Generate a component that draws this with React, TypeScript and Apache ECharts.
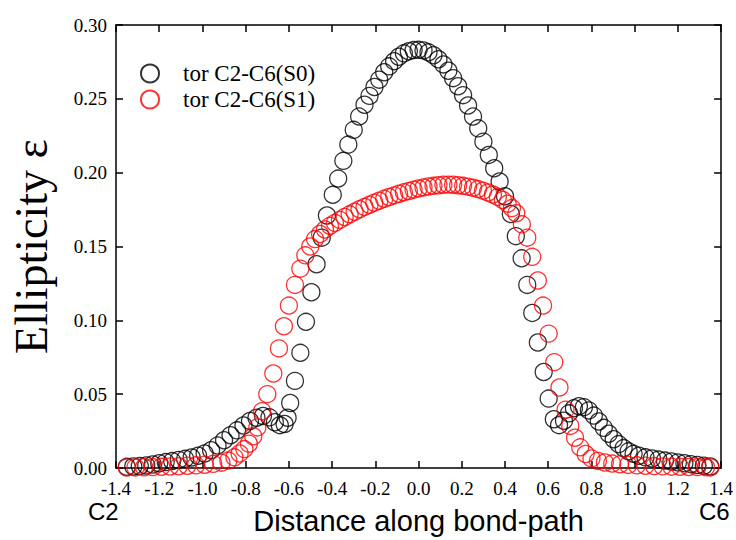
import React, { useEffect, useRef } from "react";
import * as echarts from "echarts";

// Ellipticity along the C2–C6 bond path, torsional geometry, S0 and S1 states.
const s0Distance = [
  -1.35, -1.32, -1.29, -1.26, -1.23, -1.2, -1.17, -1.14, -1.11, -1.08, -1.05, -1.02,
  -0.99, -0.96, -0.93, -0.9, -0.87, -0.84, -0.81, -0.78, -0.75, -0.72, -0.69, -0.665,
  -0.642, -0.62, -0.606, -0.594, -0.572, -0.547, -0.521, -0.496, -0.472, -0.448, -0.424,
  -0.397, -0.372, -0.348, -0.325, -0.3, -0.275, -0.25, -0.227, -0.204, -0.182, -0.159,
  -0.136, -0.113, -0.091, -0.068, -0.045, -0.023, 0.0, 0.023, 0.046, 0.069, 0.092, 0.115,
  0.138, 0.16, 0.183, 0.206, 0.229, 0.252, 0.276, 0.3, 0.325, 0.35, 0.375, 0.4, 0.427,
  0.45, 0.477, 0.503, 0.526, 0.552, 0.579, 0.602, 0.626, 0.65, 0.673, 0.696, 0.719,
  0.742, 0.765, 0.788, 0.811, 0.834, 0.857, 0.88, 0.903, 0.926, 0.949, 0.972, 0.995,
  1.02, 1.05, 1.08, 1.11, 1.14, 1.17, 1.2, 1.23, 1.26, 1.29, 1.32, 1.35,
];
const s0Ellipticity = [
  0.0008, 0.001, 0.0013, 0.0017, 0.0024, 0.0032, 0.004, 0.0047, 0.0055, 0.0062, 0.0071,
  0.0083, 0.0098, 0.012, 0.0152, 0.0188, 0.0222, 0.0255, 0.0288, 0.0318, 0.034, 0.0352,
  0.0343, 0.031, 0.029, 0.0298, 0.034, 0.044, 0.059, 0.078, 0.099, 0.119, 0.138, 0.156,
  0.171, 0.185, 0.196, 0.208, 0.219, 0.229, 0.238, 0.246, 0.252, 0.258, 0.263, 0.268,
  0.272, 0.2755, 0.2785, 0.2808, 0.2822, 0.283, 0.2832, 0.2828, 0.2815, 0.2795, 0.2768,
  0.2733, 0.269, 0.264, 0.2585, 0.2525, 0.2455, 0.238, 0.23, 0.221, 0.212, 0.203, 0.194,
  0.184, 0.172, 0.157, 0.142, 0.124, 0.105, 0.085, 0.065, 0.047, 0.033, 0.029, 0.032,
  0.037, 0.0405, 0.0418, 0.0412, 0.039, 0.0355, 0.0315, 0.0272, 0.0232, 0.0195, 0.0162,
  0.0135, 0.0113, 0.0096, 0.0083, 0.0072, 0.0064, 0.0057, 0.005, 0.0044, 0.0038, 0.0032,
  0.0026, 0.002, 0.0015, 0.001,
];

const s1Distance = [
  -1.35, -1.31, -1.27, -1.23, -1.19, -1.15, -1.11, -1.07, -1.03, -0.99, -0.95, -0.912,
  -0.88, -0.852, -0.828, -0.806, -0.785, -0.765, -0.746, -0.724, -0.7, -0.672, -0.646,
  -0.623, -0.6, -0.572, -0.547, -0.524, -0.501, -0.479, -0.456, -0.433, -0.41, -0.387,
  -0.364, -0.342, -0.319, -0.296, -0.273, -0.25, -0.227, -0.205, -0.182, -0.159, -0.136,
  -0.113, -0.09, -0.068, -0.045, -0.023, 0.0, 0.023, 0.046, 0.069, 0.092, 0.115, 0.138,
  0.16, 0.183, 0.206, 0.229, 0.252, 0.275, 0.298, 0.321, 0.344, 0.367, 0.39, 0.412, 0.432,
  0.452, 0.478, 0.503, 0.526, 0.552, 0.576, 0.602, 0.628, 0.652, 0.68, 0.702, 0.724,
  0.748, 0.773, 0.8, 0.83, 0.862, 0.896, 0.932, 0.97, 1.01, 1.05, 1.09, 1.13, 1.17, 1.21,
  1.25, 1.29, 1.33, 1.35,
];
const s1Ellipticity = [
  0.0003, 0.0004, 0.0005, 0.0006, 0.0008, 0.001, 0.0012, 0.0015, 0.0018, 0.0022, 0.0028,
  0.0036, 0.005, 0.0072, 0.0098, 0.0128, 0.0165, 0.0215, 0.0275, 0.0385, 0.05, 0.064,
  0.081, 0.096, 0.11, 0.124, 0.135, 0.144, 0.15, 0.155, 0.1585, 0.1615, 0.164, 0.166,
  0.168, 0.17, 0.1718, 0.1735, 0.1752, 0.1768, 0.1783, 0.1797, 0.181, 0.1823, 0.1835,
  0.1846, 0.1857, 0.1867, 0.1876, 0.1885, 0.1893, 0.19, 0.1906, 0.1911, 0.1915, 0.1918,
  0.1919, 0.1918, 0.1915, 0.1911, 0.1905, 0.1898, 0.1889, 0.1878, 0.1866, 0.1852, 0.1836,
  0.1815, 0.179, 0.176, 0.1725, 0.165, 0.156, 0.143, 0.127, 0.11, 0.091, 0.0717, 0.0545,
  0.0395, 0.0285, 0.0205, 0.014, 0.0095, 0.0065, 0.0048, 0.0037, 0.003, 0.0025, 0.0021,
  0.0018, 0.0015, 0.0013, 0.0011, 0.0009, 0.0008, 0.0007, 0.0006, 0.0005, 0.0004,
];

const seriesNames = ["tor C2-C6(S0)", "tor C2-C6(S1)"];
const seriesColors = ["#000000", "#ff0000"];
const endAtoms = ["C2", "C6"];

const SERIF = "'Liberation Serif', 'Times New Roman', serif";
const SANS = "'Liberation Sans', Arial, sans-serif";

const pairs = (xs: number[], ys: number[]) => xs.map((x, i) => [x, ys[i]]);

export default function App() {
  const ref = useRef<HTMLDivElement>(null);

  useEffect(() => {
    if (!ref.current) return;
    const chart = echarts.init(ref.current, null, { renderer: "svg" });

    const tickStyle = { show: true, inside: true, length: 7, lineStyle: { color: "#000", width: 1.5 } };
    const lineStyle = { show: true, onZero: false, lineStyle: { color: "#000", width: 1.5 } };

    chart.setOption({
      animation: false,
      backgroundColor: "#fff",
      grid: { left: 110, right: 11, top: 25, bottom: 67, containLabel: false },
      legend: {
        orient: "vertical",
        left: 135,
        top: 57,
        itemWidth: 56,
        itemHeight: 18,
        itemGap: 3,
        icon: "circle",
        data: seriesNames,
        textStyle: { fontFamily: SERIF, fontSize: 23, color: "#000" },
      },
      xAxis: [
        {
          type: "value",
          min: -1.4,
          max: 1.4,
          interval: 0.2,
          axisLine: lineStyle,
          axisTick: tickStyle,
          splitLine: { show: false },
          axisLabel: {
            margin: 13,
            fontFamily: SERIF,
            fontSize: 19,
            lineHeight: 15,
            color: "#000",
            formatter: (v: number) => v.toFixed(1),
          },
          name: "Distance along bond-path",
          nameLocation: "middle",
          nameGap: 38,
          nameTextStyle: { fontFamily: SANS, fontSize: 29, color: "#000" },
        },
        {
          type: "value",
          position: "top",
          min: -1.4,
          max: 1.4,
          interval: 0.2,
          axisLine: lineStyle,
          axisTick: tickStyle,
          axisLabel: { show: false },
          splitLine: { show: false },
        },
      ],
      yAxis: [
        {
          type: "value",
          min: 0,
          max: 0.3,
          interval: 0.05,
          axisLine: lineStyle,
          axisTick: tickStyle,
          splitLine: { show: false },
          axisLabel: {
            margin: 9,
            fontFamily: SERIF,
            fontSize: 19,
            color: "#000",
            formatter: (v: number) => v.toFixed(2),
          },
          name: "Ellipticity ε",
          nameLocation: "middle",
          nameRotate: 90,
          nameGap: 62,
          nameTextStyle: { fontFamily: SERIF, fontSize: 46, color: "#000" },
        },
        {
          type: "value",
          position: "right",
          min: 0,
          max: 0.3,
          interval: 0.05,
          axisLine: lineStyle,
          axisTick: tickStyle,
          axisLabel: { show: false },
          splitLine: { show: false },
        },
      ],
      graphic: [
        {
          type: "text",
          left: 88,
          top: 499,
          style: { text: endAtoms[0], font: `24px ${SANS}`, fill: "#000" },
        },
        {
          type: "text",
          left: 699,
          top: 499,
          style: { text: endAtoms[1], font: `24px ${SANS}`, fill: "#000" },
        },
      ],
      series: [
        {
          name: seriesNames[0],
          type: "scatter",
          symbol: "circle",
          symbolSize: 17,
          data: pairs(s0Distance, s0Ellipticity),
          itemStyle: { color: "transparent", borderColor: seriesColors[0], borderWidth: 1.3 },
        },
        {
          name: seriesNames[1],
          type: "scatter",
          symbol: "circle",
          symbolSize: 17,
          data: pairs(s1Distance, s1Ellipticity),
          itemStyle: { color: "transparent", borderColor: seriesColors[1], borderWidth: 1.3 },
        },
      ],
    });

    return () => chart.dispose();
  }, []);

  return (
    <div
      ref={ref}
      style={{ position: "fixed", left: 0, top: 0, width: 736, height: 540, background: "#fff" }}
    />
  );
}
